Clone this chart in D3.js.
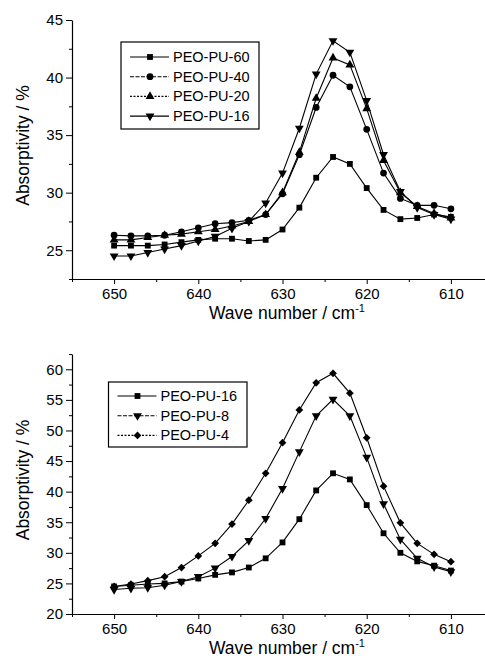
<!DOCTYPE html>
<html>
<head>
<meta charset="utf-8">
<script src="https://cdn.jsdelivr.net/npm/d3@7"></script>
<style>
  body { margin: 0; background: #fff; }
  svg { display: block; font-family: "Liberation Sans", Arial, sans-serif; }
</style>
</head>
<body>
<svg id="chart" width="485" height="658"></svg>
<script>
// wave numbers, cm-1
var wave = [650, 648, 646, 644, 642, 640, 638, 636, 634, 632, 630, 628, 626, 624, 622, 620, 618, 616, 614, 612, 610];

// upper panel
var pu60 = [25.4, 25.4, 25.4, 25.5, 25.7, 25.9, 26.0, 26.0, 25.8, 25.9, 26.8, 28.7, 31.3, 33.1, 32.5, 30.4, 28.5, 27.7, 27.8, 28.1, 27.9];
var pu40 = [26.3, 26.25, 26.25, 26.3, 26.6, 26.95, 27.3, 27.4, 27.6, 28.1, 29.9, 33.3, 37.4, 40.2, 39.2, 35.5, 31.7, 29.5, 28.9, 28.9, 28.6];
var pu20 = [25.9, 25.9, 26.1, 26.3, 26.4, 26.6, 26.8, 27.1, 27.5, 28.1, 30.0, 33.5, 38.2, 41.7, 41.1, 37.3, 32.8, 30.0, 28.8, 28.2, 27.8];
var pu16a = [24.5, 24.5, 24.8, 25.1, 25.4, 25.8, 26.2, 26.9, 27.5, 29.1, 31.7, 35.6, 40.3, 43.2, 42.2, 38.0, 33.3, 30.1, 28.7, 28.1, 27.7];

// lower panel
var pu16b = [24.5, 24.7, 24.9, 25.0, 25.3, 25.8, 26.4, 26.8, 27.6, 29.1, 31.7, 35.5, 40.2, 43.0, 42.0, 37.8, 33.2, 30.0, 28.6, 27.9, 27.1];
var pu8 = [24.0, 24.2, 24.3, 24.7, 25.3, 26.1, 27.5, 29.4, 32.0, 35.6, 40.5, 46.5, 52.4, 55.1, 52.4, 45.6, 38.0, 32.2, 29.1, 27.7, 26.9];
var pu4 = [24.5, 24.9, 25.45, 26.1, 27.6, 29.5, 31.55, 34.7, 38.6, 43.0, 48.0, 53.35, 57.8, 59.35, 56.1, 48.8, 40.9, 34.9, 31.55, 29.75, 28.55];

var xTicks = [650, 640, 630, 620, 610];
var yTicksTop = [25, 30, 35, 40, 45];
var yTicksBottom = [20, 25, 30, 35, 40, 45, 50, 55, 60];

var topNames = ["PEO-PU-60", "PEO-PU-40", "PEO-PU-20", "PEO-PU-16"];
var bottomNames = ["PEO-PU-16", "PEO-PU-8", "PEO-PU-4"];

var svg = d3.select("#chart");

var sq = { type: d3.symbolSquare, size: 34, rot: 0 };
var ci = { type: d3.symbolCircle, size: 36, rot: 0 };
var tri = { type: d3.symbolTriangle, size: 34, rot: 0 };
var itri = { type: d3.symbolTriangle, size: 34, rot: 180 };
var dia = { type: d3.symbolSquare, size: 30, rot: 45 };

function panel(opt) {
  var g = svg.append("g");
  var x = d3.scaleLinear().domain([655, 605]).range([72, 493]);
  var y = d3.scaleLinear().domain(opt.yDomain).range([opt.bottom, opt.top]);

  // x axis with minor ticks
  var xMinor = d3.range(655, 604, -5).filter(function(v) { return xTicks.indexOf(v) < 0; });
  g.append("g").attr("transform", "translate(0," + opt.bottom + ")")
    .call(d3.axisBottom(x).tickValues(xMinor).tickSize(3).tickFormat(""))
    .call(function(a) { a.select(".domain").remove(); });
  var xa = g.append("g").attr("transform", "translate(0," + opt.bottom + ")")
    .call(d3.axisBottom(x).tickValues(xTicks).tickSize(5).tickSizeOuter(0).tickPadding(4));
  xa.selectAll("text").attr("font-size", 15).attr("font-family", "Liberation Sans, Arial, sans-serif");

  // y axis
  var yMinor = d3.range(opt.yDomain[0], opt.yDomain[1] + 0.01, 2.5).filter(function(v) { return opt.yTicks.indexOf(v) < 0; });
  g.append("g").attr("transform", "translate(72,0)")
    .call(d3.axisLeft(y).tickValues(yMinor).tickSize(3).tickFormat(""))
    .call(function(a) { a.select(".domain").remove(); });
  var ya = g.append("g").attr("transform", "translate(72,0)")
    .call(d3.axisLeft(y).tickValues(opt.yTicks).tickSize(6).tickSizeOuter(0).tickPadding(3));
  ya.selectAll("text").attr("font-size", 15).attr("font-family", "Liberation Sans, Arial, sans-serif");
  g.selectAll(".domain").attr("stroke-width", 1.2);

  // titles
  var xt = g.append("text").attr("x", 287).attr("y", opt.bottom + 40)
    .attr("text-anchor", "middle").attr("font-size", 17.5).text("Wave number / cm");
  xt.append("tspan").attr("font-size", 11).attr("dy", -7).text("-1");
  g.append("text")
    .attr("transform", "translate(29," + ((opt.top + opt.bottom) / 2 - 4) + ") rotate(-90)")
    .attr("text-anchor", "middle").attr("font-size", 17.5).text("Absorptivity / %");

  var line = d3.line().x(function(d, i) { return x(wave[i]); }).y(function(d) { return y(d); });

  opt.series.forEach(function(s) {
    g.append("path").datum(s.values).attr("d", line)
      .attr("fill", "none").attr("stroke", "#000").attr("stroke-width", 1.1);
    g.selectAll(null).data(s.values).enter().append("path")
      .attr("d", d3.symbol().type(s.sym.type).size(s.sym.size))
      .attr("transform", function(d, i) {
        return "translate(" + x(wave[i]) + "," + y(d) + ") rotate(" + s.sym.rot + ")";
      })
      .attr("fill", "#000");
  });

  // legend
  var L = opt.legend;
  g.append("rect").attr("x", L.x).attr("y", L.y).attr("width", L.w).attr("height", L.h)
    .attr("fill", "#fff").attr("stroke", "#000").attr("stroke-width", 1.2);
  opt.series.forEach(function(s, i) {
    var cy = L.y + L.first + i * L.step;
    g.append("line").attr("x1", L.x + 9).attr("x2", L.x + 48).attr("y1", cy).attr("y2", cy)
      .attr("stroke", "#000").attr("stroke-width", 1.1)
      .attr("stroke-dasharray", s.dash || null);
    g.append("path").attr("d", d3.symbol().type(s.sym.type).size(s.sym.size))
      .attr("transform", "translate(" + (L.x + 29) + "," + cy + ") rotate(" + s.sym.rot + ")");
    g.append("text").attr("x", L.x + 52).attr("y", cy + 5).attr("font-size", 14.5).text(s.name);
  });
}

panel({
  top: 20, bottom: 279, yDomain: [22.5, 45], yTicks: yTicksTop,
  series: [
    { name: topNames[0], values: pu60, sym: sq },
    { name: topNames[1], values: pu40, sym: ci, dash: "4,1.5" },
    { name: topNames[2], values: pu20, sym: tri, dash: "2,1.5" },
    { name: topNames[3], values: pu16a, sym: itri }
  ],
  legend: { x: 121, y: 42, w: 138, h: 87, first: 15, step: 19.7 }
});

panel({
  top: 354, bottom: 614, yDomain: [20, 62.5], yTicks: yTicksBottom,
  series: [
    { name: bottomNames[0], values: pu16b, sym: sq },
    { name: bottomNames[1], values: pu8, sym: itri, dash: "4,1.5" },
    { name: bottomNames[2], values: pu4, sym: dia, dash: "2,1.5" }
  ],
  legend: { x: 108.5, y: 382, w: 138.5, h: 65, first: 14, step: 19.7 }
});
</script>
</body>
</html>
